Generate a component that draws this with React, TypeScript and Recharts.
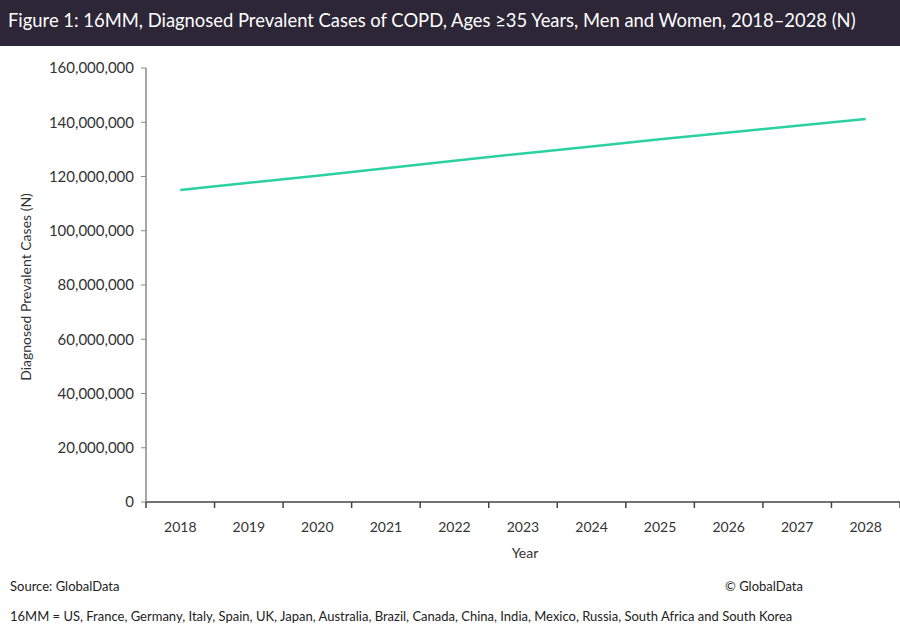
import { LineChart, Line, XAxis, YAxis } from "recharts";

const years = ["2018", "2019", "2020", "2021", "2022", "2023", "2024", "2025", "2026", "2027", "2028"];
const cases = [
  115000000, 117700000, 120300000, 123000000, 125800000, 128500000,
  131100000, 133700000, 136200000, 138700000, 141200000,
];
const yTicks = [0, 20000000, 40000000, 60000000, 80000000, 100000000, 120000000, 140000000, 160000000];

const data = years.map((year, i) => ({ year, cases: cases[i] }));

const FONT = "Lato, 'Noto Sans', sans-serif";
const PLOT_LEFT = 146;
const PLOT_W = 900 - PLOT_LEFT;
const band = PLOT_W / years.length;

const YearTick = (props: any) => {
  const { x, y, payload, index } = props;
  const left = x - band / 2;
  return (
    <g>
      <line x1={left} y1={y - 8} x2={left} y2={y - 2} stroke="#444" strokeWidth={1.5} />
      {index === years.length - 1 && (
        <line x1={left + band} y1={y - 8} x2={left + band} y2={y - 2} stroke="#444" strokeWidth={1.5} />
      )}
      <text x={x} y={y + 22} textAnchor="middle" fontSize={14} fill="#333" fontFamily={FONT}>
        {payload.value}
      </text>
    </g>
  );
};

export default function App() {
  return (
    <div style={{ position: "fixed", left: 0, top: 0, width: 900, height: 632, background: "#fff", fontFamily: FONT }}>
      <div
        style={{
          position: "absolute",
          left: 0,
          top: 0,
          width: 900,
          height: 46,
          background: "#2c2637",
          color: "#fff",
          fontSize: 18.4,
          lineHeight: "40px",
          paddingLeft: 8,
          boxSizing: "border-box",
          whiteSpace: "nowrap",
        }}
      >
        Figure 1: 16MM, Diagnosed Prevalent Cases of COPD, Ages ≥35 Years, Men and Women, 2018–2028 (N)
      </div>

      <div style={{ position: "absolute", left: 0, top: 0 }}>
        <LineChart width={900} height={632} data={data} margin={{ top: 68, right: 0, bottom: 100, left: 0 }}>
          <XAxis
            dataKey="year"
            scale="band"
            height={30}
            tickLine={false}
            axisLine={{ stroke: "#444", strokeWidth: 1.5 }}
            tick={<YearTick />}
            interval={0}
          />
          <YAxis
            width={PLOT_LEFT}
            domain={[0, 160000000]}
            ticks={yTicks}
            tickFormatter={(v: number) => v.toLocaleString("en-US")}
            tick={{ fontSize: 15, fill: "#333", fontFamily: FONT }}
            tickSize={5}
            tickMargin={7}
            axisLine={{ stroke: "#888", strokeWidth: 1.5 }}
            tickLine={{ stroke: "#888" }}
          />
          <Line
            type="linear"
            dataKey="cases"
            stroke="#2bd1a0"
            strokeWidth={2.5}
            dot={false}
            isAnimationActive={false}
          />
        </LineChart>
      </div>

      <div
        style={{
          position: "absolute",
          left: 25,
          top: 287,
          transform: "translate(-50%, -50%) rotate(-90deg)",
          fontSize: 14,
          color: "#333",
          whiteSpace: "nowrap",
        }}
      >
        Diagnosed Prevalent Cases (N)
      </div>
      <div style={{ position: "absolute", left: 525, top: 552, transform: "translate(-50%, -50%)", fontSize: 14, color: "#333" }}>
        Year
      </div>

      <div style={{ position: "absolute", left: 10, top: 578, fontSize: 13, color: "#222" }}>Source: GlobalData</div>
      <div style={{ position: "absolute", left: 725, top: 578, fontSize: 13, color: "#222" }}>© GlobalData</div>
      <div style={{ position: "absolute", left: 10, top: 608, fontSize: 13, color: "#222", whiteSpace: "nowrap" }}>
        16MM = US, France, Germany, Italy, Spain, UK, Japan, Australia, Brazil, Canada, China, India, Mexico, Russia, South Africa and South Korea
      </div>
    </div>
  );
}
